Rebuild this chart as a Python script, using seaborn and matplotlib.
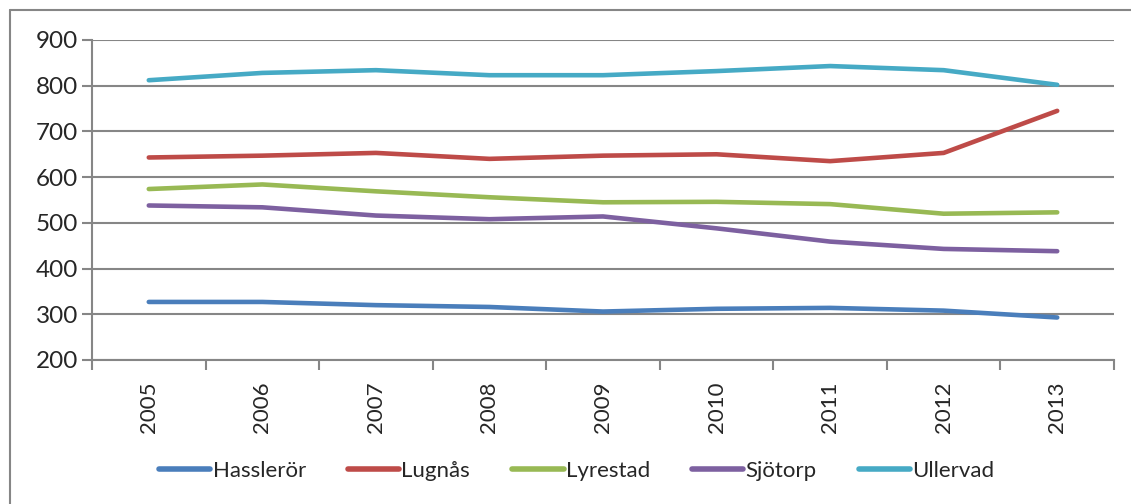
import pandas as pd
import seaborn as sns
import matplotlib.pyplot as plt
from matplotlib.lines import Line2D

# data
years = ["2005", "2006", "2007", "2008", "2009", "2010", "2011", "2012", "2013"]
hassleror = [327, 327, 320, 316, 306, 312, 314, 308, 293]
lugnas = [643, 647, 653, 640, 647, 650, 635, 653, 745]
lyrestad = [574, 584, 569, 556, 545, 546, 541, 520, 523]
sjotorp = [538, 534, 516, 508, 514, 488, 459, 443, 438]
ullervad = [812, 828, 834, 823, 823, 832, 843, 834, 802]

names = ["Hasslerör", "Lugnås", "Lyrestad", "Sjötorp", "Ullervad"]
colors = ["#4A7EBB", "#BE4B48", "#98B954", "#7D60A0", "#46AAC5"]

# long format for seaborn
series = [hassleror, lugnas, lyrestad, sjotorp, ullervad]
df = pd.DataFrame({
    "År": years * len(names),
    "Ort": [n for n in names for _ in years],
    "Antal": [v for s in series for v in s],
})

sns.set_style("white")
plt.rcParams["font.family"] = ["Lato", "DejaVu Sans"]

fig = plt.figure(figsize=(11.31, 5.04), dpi=100)
ax = fig.add_axes([92 / 1131, 1 - 360 / 504, 1022 / 1131, 320 / 504])

sns.lineplot(data=df, x="År", y="Antal", hue="Ort", palette=colors,
             linewidth=3.3, sort=False, legend=False, ax=ax,
             solid_capstyle="round")

ax.set_ylim(200, 900)
ax.set_yticks(range(200, 1000, 100))
ax.set_xlim(-0.5, len(years) - 0.5)
ax.set_xlabel("")
ax.set_ylabel("")

grid_col = "#868686"
ax.yaxis.grid(True, color=grid_col, linewidth=1.5)
ax.set_axisbelow(True)
for side in ["top", "right"]:
    ax.spines[side].set_visible(False)
ax.spines["left"].set_color(grid_col)
ax.spines["bottom"].set_color(grid_col)
ax.spines["left"].set_linewidth(1.5)
ax.spines["bottom"].set_linewidth(1.5)

# y ticks outward, x ticks between categories
ax.tick_params(axis="y", left=True, length=7, width=1.5, color=grid_col,
               labelsize=17.5, pad=3)
ax.set_xticks(range(len(years)))
ax.set_xticklabels(years, rotation=90, fontsize=16)
ax.tick_params(axis="x", bottom=False, pad=12)
ax.set_xticks([i - 0.5 for i in range(len(years) + 1)], minor=True)
ax.tick_params(axis="x", which="minor", bottom=True, length=7, width=1.5,
               color=grid_col)

# outer chart frame (only left and top visible in the crop)
fig.add_artist(Line2D([10 / 1131, 10 / 1131], [0, 1 - 10 / 504],
                      color=grid_col, linewidth=1.5))
fig.add_artist(Line2D([10 / 1131, 1], [1 - 10 / 504, 1 - 10 / 504],
                      color=grid_col, linewidth=1.5))

handles = [Line2D([], [], color=c, linewidth=4, solid_capstyle="round")
           for c in colors]
fig.legend(handles, names, loc="center", bbox_to_anchor=(0.51, 1 - 471 / 504),
           ncol=5, frameon=False, fontsize=16, handlelength=2.3,
           handletextpad=0.1, columnspacing=1.9)

fig.savefig("out.png", dpi=100)
